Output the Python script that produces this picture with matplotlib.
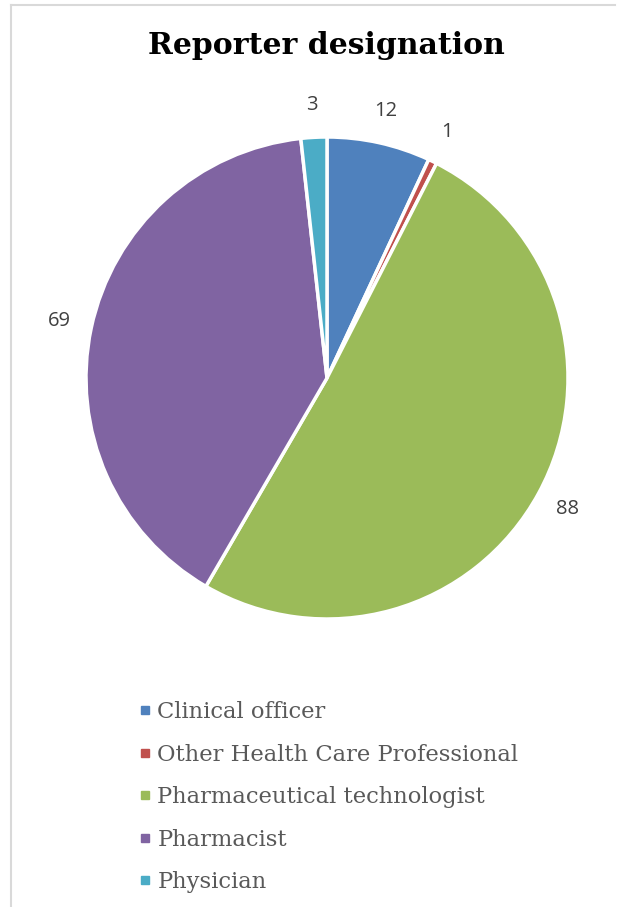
import numpy as np
import matplotlib.pyplot as plt
from matplotlib.lines import Line2D

# data
categories = ['Clinical officer', 'Other Health Care Professional',
              'Pharmaceutical technologist', 'Pharmacist', 'Physician']
counts = [12, 1, 88, 69, 3]
colors = ['#4F81BD', '#C0504D', '#9BBB59', '#8064A2', '#4BACC6']

W, H = 618, 907
fig = plt.figure(figsize=(W/100, H/100), dpi=100)

# pie centre (327, 378) px, radius 241 px
cx, cy, r = 327, 378, 241
ax = fig.add_axes([(cx-r)/W, (H-cy-r)/H, 2*r/W, 2*r/H])
wedges, texts = ax.pie(counts, colors=colors, startangle=90, counterclock=False,
                       wedgeprops=dict(edgecolor='white', linewidth=2.5))
# value labels at the outside end of each slice
for w, v in zip(wedges, counts):
    ang = np.deg2rad((w.theta1 + w.theta2) / 2)
    ax.text(1.135*np.cos(ang), 1.135*np.sin(ang), str(v), ha='center', va='center',
            fontsize=14.5, color='#404040', family='Open Sans', clip_on=False)
ax.set_xlim(-1, 1)
ax.set_ylim(-1, 1)
ax.set_aspect('equal')
ax.axis('off')

fig.text(326/W, 1 - 46/H, 'Reporter designation', ha='center', va='center',
         fontsize=21.5, fontweight='bold', family='DejaVu Serif', color='black')

handles = [Line2D([], [], marker='s', linestyle='none', markersize=6,
                  markerfacecolor=c, markeredgecolor=c) for c in colors]
leg = fig.legend(handles, categories, loc='upper left',
                 bbox_to_anchor=(119/W, 1 - 681/H), frameon=False,
                 handlelength=0.5, handletextpad=0.3, labelspacing=0.9,
                 prop=dict(family='DejaVu Serif', size=16.3))
for t in leg.get_texts():
    t.set_color('#595959')

# faint chart border (left and top only visible)
fig.add_artist(Line2D([11/W, 11/W], [0, 1 - 5/H], transform=fig.transFigure,
                      color='#d9d9d9', linewidth=1.5))
fig.add_artist(Line2D([11/W, 615/W], [1 - 5/H, 1 - 5/H], transform=fig.transFigure,
                      color='#d9d9d9', linewidth=1.5))

fig.savefig('out.png', dpi=100, facecolor='white')
